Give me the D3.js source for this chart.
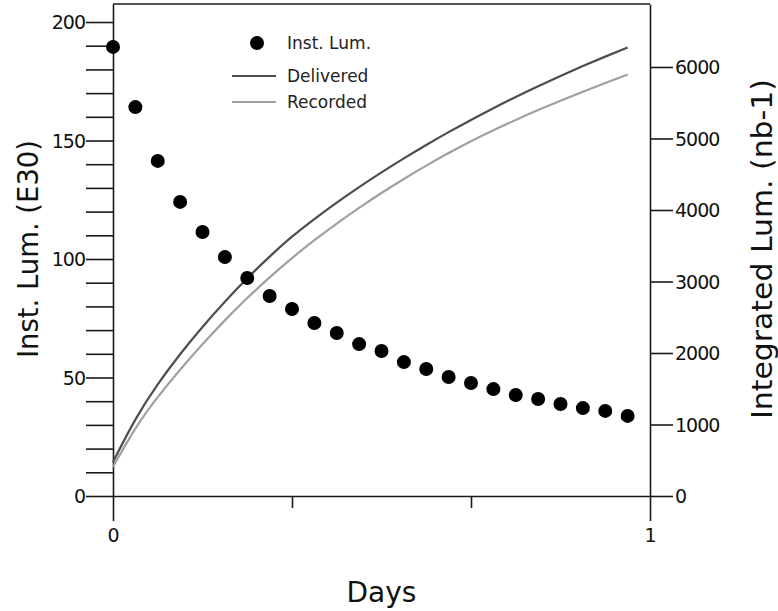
<!DOCTYPE html>
<html>
<head>
<meta charset="utf-8">
<script src="https://cdn.jsdelivr.net/npm/d3@7"></script>
<style>
  body { margin: 0; background: #fff; }
  svg { display: block; }
  text { font-family: "DejaVu Sans", sans-serif; fill: #111; }
</style>
</head>
<body>
<svg id="chart" width="778" height="611"></svg>
<script>
// hour of the fill (0..23), plotted as fraction of a day
const hours = d3.range(0, 24);
// instantaneous luminosity (E30), one point per hour
const instLum = [189.5, 164.1, 141.4, 124.1, 111.4, 100.8, 92.0, 84.4, 78.9, 73.0,
    68.8, 64.1, 61.2, 56.5, 53.6, 50.2, 47.7, 45.1, 42.6, 40.9, 38.8, 37.1, 35.9, 33.8];
// integrated luminosity (nb-1)
const delivered = [475, 1091, 1571, 1989, 2369, 2721, 3049, 3351, 3633, 3876, 4105, 4322,
    4528, 4724, 4911, 5090, 5261, 5425, 5582, 5732, 5876, 6014, 6146, 6273];
const recorded = [406, 965, 1390, 1770, 2125, 2460, 2772, 3062, 3330, 3580, 3813, 4033,
    4240, 4436, 4622, 4798, 4965, 5117, 5261, 5398, 5529, 5655, 5776, 5893];

const leftTicks = d3.range(0, 201, 10);
const rightTicks = [0, 1000, 2000, 3000, 4000, 5000, 6000];
const xTicks = [0, 1 / 3, 2 / 3, 1];

const plot = { left: 113, right: 650, top: 4, bottom: 496 };

const svg = d3.select("#chart");

const x = d3.scaleLinear().domain([0, 1]).range([plot.left, plot.right]);
const yL = d3.scaleLinear().domain([0, 207.6]).range([plot.bottom, plot.top]);
const yR = d3.scaleLinear().domain([0, 6881]).range([plot.bottom, plot.top]);

const axisColor = "#1a1a1a";

// left axis
const gL = svg.append("g")
    .attr("transform", `translate(${plot.left},0)`)
    .call(d3.axisLeft(yL).tickValues(leftTicks).tickSize(27).tickSizeOuter(0)
        .tickFormat(d => d % 50 === 0 ? d : ""));
gL.selectAll("text").attr("x", -28).attr("dy", "0.62em").attr("y", -5)
    .style("font-size", "19px").style("letter-spacing", "-1px");

// right axis
const gR = svg.append("g")
    .attr("transform", `translate(${plot.right},0)`)
    .call(d3.axisRight(yR).tickValues(rightTicks).tickSize(23).tickSizeOuter(0)
        .tickFormat(d3.format("d")));
gR.selectAll("text").attr("x", 25).attr("dy", "0.62em").attr("y", -5)
    .style("font-size", "19px").style("letter-spacing", "-1px");

// bottom axis
const gB = svg.append("g")
    .attr("transform", `translate(0,${plot.bottom})`)
    .call(d3.axisBottom(x).tickValues(xTicks).tickSizeOuter(0)
        .tickFormat(d => (d === 0 || d === 1) ? d : ""));
gB.selectAll(".tick line").attr("y2", d => (d === 0 || d === 1) ? 25 : 12);
gB.selectAll("text").attr("y", 33).style("font-size", "19px");

svg.selectAll(".domain, .tick line").attr("stroke", axisColor).attr("stroke-width", 1.6);
svg.selectAll(".tick text").style("fill", "#111");
svg.selectAll("g").attr("font-family", null).attr("font-size", null);

// top frame
svg.append("line")
    .attr("x1", x(0)).attr("x2", x(1))
    .attr("y1", yL.range()[1]).attr("y2", yL.range()[1])
    .attr("stroke", axisColor).attr("stroke-width", 1.6);

// integrated curves
const lineInt = d3.line().x((d, i) => x(hours[i] / 24)).y(d => yR(d)).curve(d3.curveBasis);
svg.append("path").datum(delivered)
    .attr("d", lineInt).attr("fill", "none")
    .attr("stroke", "#4d4d4d").attr("stroke-width", 2.2);
svg.append("path").datum(recorded)
    .attr("d", lineInt).attr("fill", "none")
    .attr("stroke", "#a0a0a0").attr("stroke-width", 2.2);

// instantaneous points
svg.append("g").selectAll("circle")
    .data(instLum)
    .join("circle")
    .attr("cx", (d, i) => x(hours[i] / 24))
    .attr("cy", d => yL(d))
    .attr("r", 7)
    .attr("fill", "#000");

// legend
const legend = svg.append("g");
legend.append("circle").attr("cx", 257).attr("cy", 43).attr("r", 7).attr("fill", "#000");
legend.append("line").attr("x1", 232).attr("x2", 276).attr("y1", 76).attr("y2", 76)
    .attr("stroke", "#4d4d4d").attr("stroke-width", 2);
legend.append("line").attr("x1", 232).attr("x2", 276).attr("y1", 102).attr("y2", 102)
    .attr("stroke", "#a0a0a0").attr("stroke-width", 2);
[["Inst. Lum.", 43], ["Delivered", 76], ["Recorded", 102]].forEach(([t, y]) => {
    legend.append("text").attr("x", 287).attr("y", y).attr("dy", "0.35em")
        .style("font-size", "17px").style("fill", "#222").text(t);
});

// axis titles
svg.append("text")
    .attr("x", x(0.5)).attr("y", 602)
    .attr("text-anchor", "middle")
    .style("font-size", "28px")
    .text("Days");

svg.append("text")
    .attr("transform", "translate(38,249) rotate(-90)")
    .attr("text-anchor", "middle")
    .attr("textLength", 218).attr("lengthAdjust", "spacingAndGlyphs")
    .style("font-size", "28px")
    .text("Inst. Lum. (E30)");

svg.append("text")
    .attr("transform", "translate(772,249) rotate(-90)")
    .attr("text-anchor", "middle")
    .attr("textLength", 340).attr("lengthAdjust", "spacingAndGlyphs")
    .style("font-size", "28px")
    .text("Integrated Lum. (nb-1)");
</script>
</body>
</html>
